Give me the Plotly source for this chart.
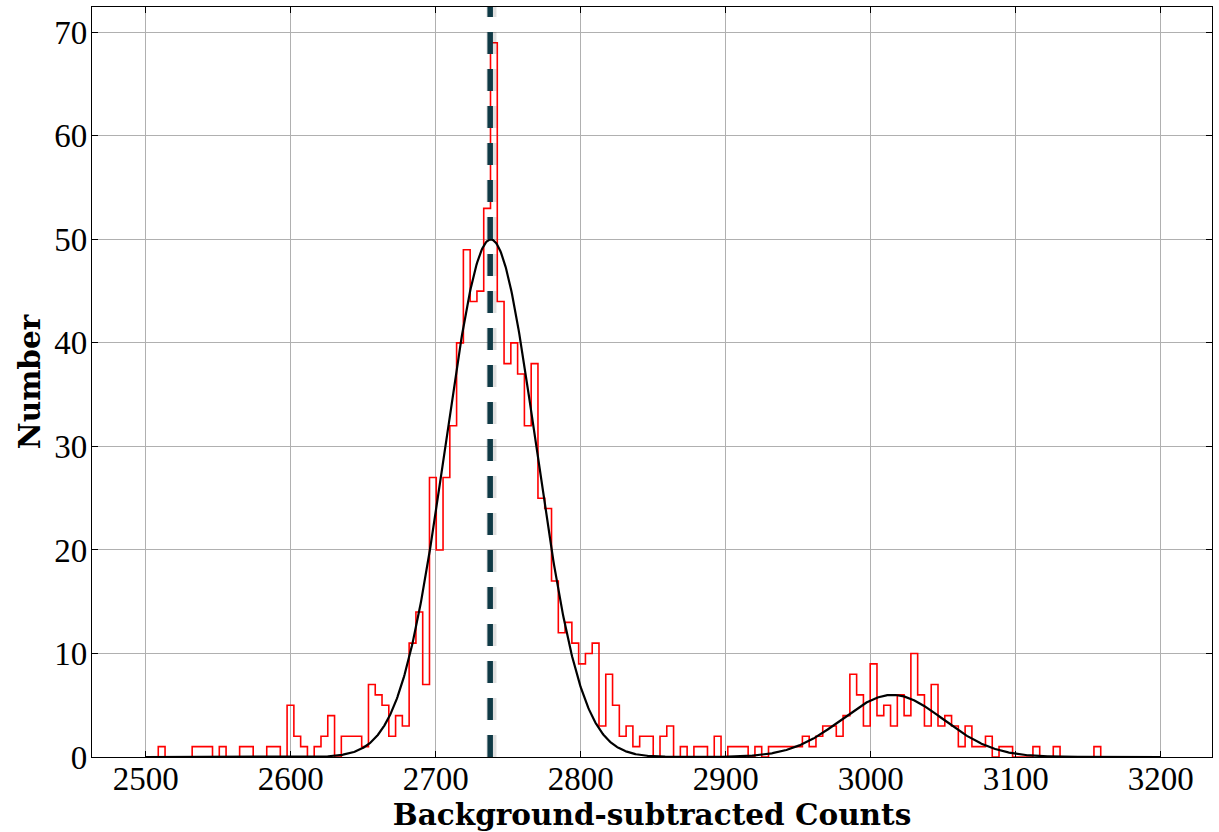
import numpy as np
import plotly.graph_objects as go

# ---- data ----
bin_start = 2508.7
bin_width = 4.676
counts = [1, 0, 0, 0, 0, 1, 1, 1, 0, 1,
          0, 0, 1, 1, 0, 0, 1, 1, 0, 5,
          2, 1, 0, 1, 2, 4, 0, 2, 2, 2,
          1, 7, 6, 5, 2, 4, 3, 11, 14, 7,
          27, 20, 27, 32, 40, 49, 44, 45, 53, 69,
          44, 38, 40, 37, 32, 38, 25, 24, 17, 12,
          13, 11, 9, 10, 11, 3, 8, 5, 2, 3,
          1, 2, 2, 0, 2, 3, 0, 1, 0, 1,
          1, 0, 2, 0, 1, 1, 1, 0, 1, 0,
          1, 1, 1, 1, 1, 2, 1, 2, 3, 3,
          2, 4, 8, 6, 3, 9, 4, 5, 3, 6,
          4, 10, 6, 3, 7, 3, 4, 3, 1, 3,
          1, 1, 2, 0, 1, 1, 0, 0, 0, 1,
          0, 0, 1, 0, 0, 0, 0, 0, 1]

# Gaussian fit parameters (amplitude, centre, sigma)
fit1 = (50.0, 2738.0, 31.0)
fit2 = (6.0, 3015.0, 35.0)
fit_range = (2500, 3200)
peak_line_x = 2737.6

x_ticks = [2500, 2600, 2700, 2800, 2900, 3000, 3100, 3200]
y_ticks = [0, 10, 20, 30, 40, 50, 60, 70]

# ---- build ----
edges = bin_start + bin_width * np.arange(len(counts) + 1)
step_x = [edges[0]] + list(edges)
step_y = [0] + list(counts) + [0]

xf = np.linspace(fit_range[0], fit_range[1], 1400)
def gauss(x, a, m, s):
    return a * np.exp(-(x - m) ** 2 / (2 * s ** 2))
yf = gauss(xf, *fit1) + gauss(xf, *fit2)

fig = go.Figure()
fig.add_trace(go.Scatter(x=step_x, y=step_y, mode="lines", line_shape="hv",
                         line=dict(color="#ff0000", width=1.6), showlegend=False,
                         hoverinfo="skip"))
fig.add_trace(go.Scatter(x=xf, y=yf, mode="lines",
                         line=dict(color="black", width=2.2), showlegend=False))

# dashed vertical line with soft shadow
fig.add_shape(type="line", x0=peak_line_x + 0.9, x1=peak_line_x + 0.9, y0=0, y1=1,
              xref="x", yref="y domain",
              line=dict(color="rgba(0,0,0,0.12)", width=10, dash="22px,15px"))
fig.add_shape(type="line", x0=peak_line_x, x1=peak_line_x, y0=0, y1=1,
              xref="x", yref="y domain",
              line=dict(color="#0f3a46", width=5.5, dash="22px,15px"))

tick_family = "Liberation Serif, DejaVu Serif, serif"
title_family = "DejaVu Serif, Liberation Serif, serif"
axis_common = dict(showline=True, linecolor="black", linewidth=1.2, mirror="ticks",
                   ticks="inside", ticklen=6, tickwidth=1.2, tickcolor="black",
                   showgrid=True, gridcolor="#b0b0b0", gridwidth=1, zeroline=False,
                   tickfont=dict(family=tick_family, size=33, color="black"))

fig.update_layout(
    width=1219, height=832,
    margin=dict(l=92, r=7, t=7, b=75),
    paper_bgcolor="white", plot_bgcolor="white",
    font=dict(family=tick_family, color="black"),
    xaxis=dict(range=[2463, 3235.4], tickvals=x_ticks, ticktext=[str(v) for v in x_ticks],
               ticklabelstandoff=-8,
               title=dict(text="<b>Background-subtracted Counts</b>",
                          font=dict(family=title_family, size=29.5), standoff=2),
               **axis_common),
    yaxis=dict(range=[0, 72.45], tickvals=y_ticks, ticktext=[str(v) for v in y_ticks],
               ticklabelstandoff=-3,
               title=dict(text="<b>Number</b>",
                          font=dict(family=title_family, size=29.5), standoff=4),
               **axis_common),
)

fig.write_html("out.html")
